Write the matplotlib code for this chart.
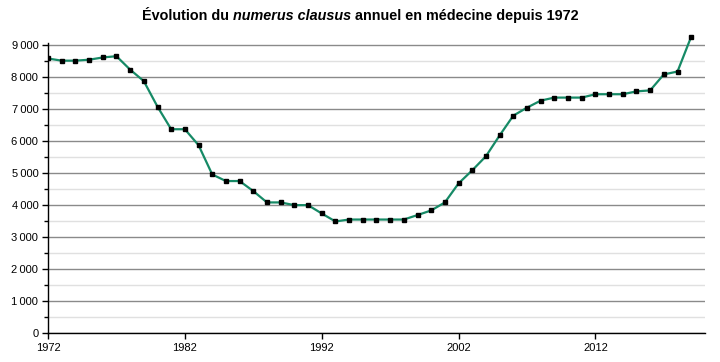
import matplotlib
matplotlib.use("Agg")
import matplotlib.pyplot as plt
from matplotlib.ticker import MultipleLocator, FuncFormatter

# numerus clausus en médecine
years = list(range(1972, 2020))
places = [8588, 8520, 8520, 8550, 8620, 8660, 8240, 7880, 7080, 6375,
          6375, 5875, 4960, 4754, 4754, 4440, 4085, 4085, 4000, 4000,
          3740, 3490, 3550, 3550, 3550, 3550, 3550, 3690, 3835, 4085,
          4680, 5090, 5530, 6180, 6800, 7050, 7270, 7365, 7365, 7365,
          7470, 7470, 7470, 7560, 7590, 8090, 8180, 9270]
xticks = [1972, 1982, 1992, 2002, 2012]

plt.rcParams['font.family'] = ['Liberation Sans', 'DejaVu Sans']

fig = plt.figure(figsize=(7.2, 3.62), dpi=100)
ax = fig.add_axes([0.0667, 0.0801, 0.9123, 0.83])

ax.plot(years, places, color="#168a66", linewidth=1.6, zorder=3,
        marker="s", markersize=3.4, markerfacecolor="black",
        markeredgecolor="black")

ax.set_xlim(1972, 2020)
ax.set_ylim(0, 9400)
ax.set_xticks(xticks)
ax.yaxis.set_major_locator(MultipleLocator(1000))
ax.yaxis.set_minor_locator(MultipleLocator(500))
ax.yaxis.set_major_formatter(FuncFormatter(
    lambda v, p: f"{int(v):,}".replace(",", "\u2009")))

ax.grid(axis="y", which="major", color="#8a8a8a", linewidth=1)
ax.grid(axis="y", which="minor", color="#e0e0e0", linewidth=1)
ax.set_axisbelow(True)

for s in ["top", "right"]:
    ax.spines[s].set_visible(False)
for s in ["left", "bottom"]:
    ax.spines[s].set_color("black")
    ax.spines[s].set_linewidth(1)
ax.spines["left"].set_bounds(0, 9080)

ax.tick_params(axis="both", which="major", direction="out", length=4,
               width=1, labelsize=8, colors="black")
ax.tick_params(axis="y", which="minor", direction="out", length=3, width=1)
ax.tick_params(axis="y", pad=3)

# title with an italic part
parts = [("Évolution du ", "normal"), ("numerus clausus", "italic"),
         (" annuel en médecine depuis 1972", "normal")]
texts = []
for s, st in parts:
    t = fig.text(0, 0, s, fontsize=10.4, weight="bold", style=st,
                 ha="left", va="baseline")
    texts.append(t)
fig.canvas.draw()
renderer = fig.canvas.get_renderer()
widths = [t.get_window_extent(renderer).width for t in texts]
x0 = 360 - sum(widths) / 2
for t, w in zip(texts, widths):
    t.set_position((x0 / 720, (362 - 20) / 362))
    x0 += w

fig.savefig("out.png", dpi=100)
